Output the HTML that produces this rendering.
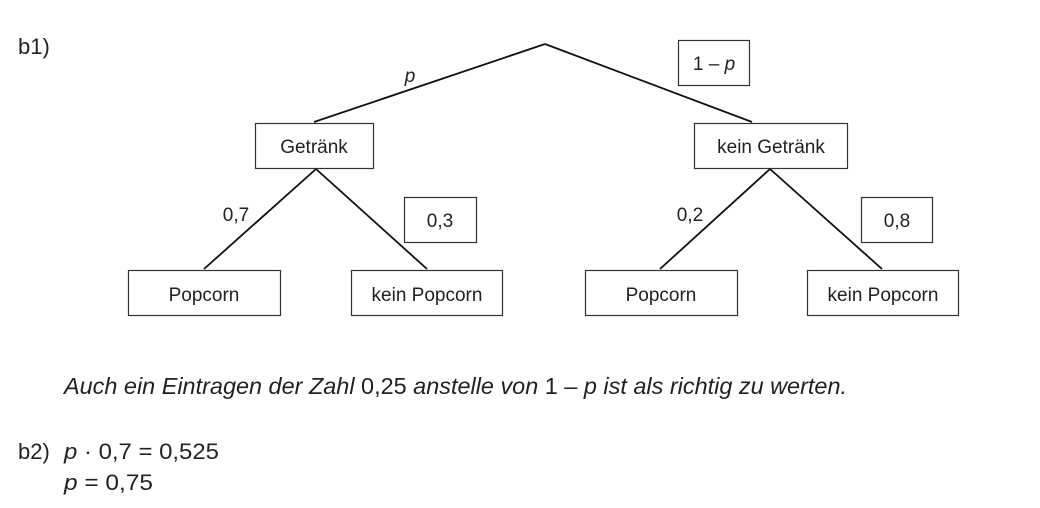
<!DOCTYPE html>
<html><head><style>
body{margin:0;background:#fff;width:1040px;height:503px;overflow:hidden;}
svg text{font-family:"Liberation Sans",sans-serif;fill:#222;}
</style></head><body>
<svg width="1040" height="503" viewBox="0 0 1040 503">
<g stroke="#111" stroke-width="1.8" fill="none">
<line x1="545" y1="44" x2="314" y2="122"/>
<line x1="545" y1="44" x2="752" y2="122"/>
<line x1="316" y1="169" x2="204" y2="269"/>
<line x1="316" y1="169" x2="427" y2="269"/>
<line x1="770" y1="169" x2="660" y2="269"/>
<line x1="770" y1="169" x2="882" y2="269"/>
</g>
<g stroke="#333" stroke-width="1.2" fill="#fff">
<rect x="255.5" y="123.5" width="118" height="45"/>
<rect x="694.5" y="123.5" width="153" height="45"/>
<rect x="678.5" y="40.5" width="71" height="45"/>
<rect x="404.5" y="197.5" width="72" height="45"/>
<rect x="861.5" y="197.5" width="71" height="45"/>
<rect x="128.5" y="270.5" width="152" height="45"/>
<rect x="351.5" y="270.5" width="151" height="45"/>
<rect x="585.5" y="270.5" width="152" height="45"/>
<rect x="807.5" y="270.5" width="151" height="45"/>
</g>
<g font-size="19" text-anchor="middle">
<text x="314" y="153">Getränk</text>
<text x="771" y="153">kein Getränk</text>
<text x="714" y="70">1 – <tspan font-style="italic">p</tspan></text>
<text x="440" y="227">0,3</text>
<text x="897" y="227">0,8</text>
<text x="204" y="301">Popcorn</text>
<text x="427" y="301">kein Popcorn</text>
<text x="661" y="301">Popcorn</text>
<text x="883" y="301">kein Popcorn</text>
<text x="410" y="82" font-style="italic">p</text>
<text x="236" y="221">0,7</text>
<text x="690" y="221">0,2</text>
</g>
<text x="18" y="54" font-size="22">b1)</text>
<text x="64" y="394" font-size="23" font-style="italic" textLength="783" lengthAdjust="spacingAndGlyphs">Auch ein Eintragen der Zahl <tspan font-style="normal">0,25</tspan> anstelle von  <tspan font-style="normal">1 –</tspan> p  ist als richtig zu werten.</text>
<text x="18" y="459" font-size="22">b2)</text>
<text x="64" y="459" font-size="22" textLength="155" lengthAdjust="spacingAndGlyphs"><tspan font-style="italic">p</tspan> · 0,7 = 0,525</text>
<text x="64" y="490" font-size="22" textLength="89" lengthAdjust="spacingAndGlyphs"><tspan font-style="italic">p</tspan> = 0,75</text>
</svg>
</body></html>
